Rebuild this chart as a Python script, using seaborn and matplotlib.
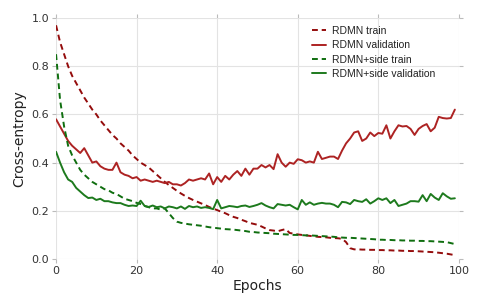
import numpy as np
import pandas as pd
import seaborn as sns
import matplotlib
matplotlib.use("Agg")
import matplotlib.pyplot as plt

epochs = list(range(100))

rdmn_train = [
    0.97, 0.90, 0.85, 0.80, 0.76, 0.73, 0.70, 0.67, 0.645, 0.62,
    0.60, 0.575, 0.555, 0.535, 0.515, 0.50, 0.48, 0.465, 0.45, 0.43,
    0.415, 0.40, 0.39, 0.38, 0.365, 0.35, 0.335, 0.32, 0.307, 0.295,
    0.283, 0.272, 0.262, 0.253, 0.245, 0.238, 0.231, 0.224, 0.216, 0.209,
    0.203, 0.196, 0.19, 0.182, 0.175, 0.17, 0.163, 0.157, 0.15, 0.146,
    0.142, 0.135, 0.127, 0.12, 0.118, 0.115, 0.12, 0.124, 0.108, 0.105,
    0.102, 0.10, 0.098, 0.096, 0.094, 0.092, 0.091, 0.09, 0.088, 0.087,
    0.086, 0.084, 0.07, 0.045, 0.04, 0.04, 0.039, 0.039, 0.038, 0.038,
    0.037, 0.037, 0.036, 0.036, 0.035, 0.035, 0.034, 0.034, 0.033, 0.033,
    0.032, 0.031, 0.030, 0.029, 0.028, 0.026, 0.024, 0.022, 0.019, 0.016,
]

rdmn_val = [
    0.58, 0.55, 0.52, 0.49, 0.47, 0.455, 0.44, 0.46, 0.43, 0.40,
    0.405, 0.385, 0.375, 0.37, 0.37, 0.40, 0.36, 0.35, 0.345, 0.335,
    0.34, 0.325, 0.33, 0.325, 0.32, 0.325, 0.32, 0.315, 0.32, 0.31,
    0.31, 0.305, 0.315, 0.33, 0.325, 0.33, 0.335, 0.33, 0.355, 0.31,
    0.34, 0.32, 0.345, 0.33, 0.35, 0.365, 0.345, 0.375, 0.35, 0.375,
    0.375, 0.39, 0.38, 0.39, 0.373, 0.435, 0.40, 0.383, 0.40, 0.395,
    0.414, 0.41, 0.40, 0.405, 0.40, 0.445, 0.415, 0.42, 0.425, 0.425,
    0.415, 0.45, 0.48, 0.50, 0.525, 0.53, 0.49, 0.50, 0.525, 0.51,
    0.523, 0.52, 0.555, 0.50, 0.53, 0.555, 0.55, 0.552, 0.54, 0.515,
    0.54, 0.552, 0.56, 0.53, 0.545, 0.59, 0.585, 0.583, 0.585, 0.62,
]

side_train = [
    0.85, 0.66, 0.55, 0.47, 0.43, 0.40, 0.37, 0.35, 0.335, 0.32,
    0.31, 0.30, 0.29, 0.285, 0.275, 0.27, 0.26, 0.25, 0.245, 0.24,
    0.233, 0.228, 0.22, 0.215, 0.21, 0.21, 0.205, 0.21, 0.19, 0.17,
    0.155, 0.15, 0.147, 0.144, 0.142, 0.14, 0.138, 0.135, 0.132, 0.13,
    0.128, 0.126, 0.124, 0.123, 0.122, 0.12, 0.118, 0.116, 0.113, 0.112,
    0.11, 0.109, 0.108, 0.107, 0.105, 0.104, 0.103, 0.102, 0.101, 0.10,
    0.10, 0.099, 0.098, 0.098, 0.097, 0.096, 0.095, 0.094, 0.093, 0.092,
    0.09, 0.089, 0.088, 0.088, 0.087, 0.086, 0.085, 0.084, 0.083, 0.082,
    0.08, 0.08, 0.079, 0.079, 0.078, 0.078, 0.077, 0.077, 0.076, 0.076,
    0.075, 0.075, 0.074, 0.074, 0.073, 0.072, 0.071, 0.07, 0.066, 0.062,
]

side_val = [
    0.445, 0.40, 0.36, 0.33, 0.32, 0.295, 0.28, 0.265, 0.253, 0.255,
    0.245, 0.25, 0.24, 0.24, 0.235, 0.232, 0.232, 0.225, 0.22, 0.222,
    0.22, 0.242, 0.22, 0.216, 0.222, 0.215, 0.218, 0.21, 0.218, 0.215,
    0.21, 0.218, 0.208, 0.22, 0.215, 0.218, 0.212, 0.215, 0.212, 0.207,
    0.245, 0.21, 0.215, 0.22, 0.218, 0.215, 0.22, 0.222, 0.216, 0.22,
    0.225, 0.232, 0.222, 0.215, 0.21, 0.228, 0.225, 0.222, 0.225, 0.215,
    0.206, 0.245, 0.225, 0.235, 0.225, 0.23, 0.233, 0.23, 0.23, 0.225,
    0.215, 0.237, 0.235, 0.228, 0.245, 0.24, 0.237, 0.248, 0.23, 0.24,
    0.252, 0.245, 0.252, 0.232, 0.245, 0.22, 0.225, 0.23, 0.24, 0.24,
    0.238, 0.265, 0.24, 0.27, 0.255, 0.245, 0.273, 0.26, 0.25, 0.252,
]

names = ["RDMN train", "RDMN validation", "RDMN+side train", "RDMN+side validation"]
series = [rdmn_train, rdmn_val, side_train, side_val]

df = pd.concat(
    [pd.DataFrame({"epoch": epochs, "loss": vals, "run": n}) for n, vals in zip(names, series)],
    ignore_index=True,
)

palette = {
    "RDMN train": "#940c0c",
    "RDMN validation": "#ad2323",
    "RDMN+side train": "#0f6e0f",
    "RDMN+side validation": "#1d7a1d",
}
dashes = {
    "RDMN train": (3, 2),
    "RDMN validation": "",
    "RDMN+side train": (3, 2),
    "RDMN+side validation": "",
}

sns.set_style("whitegrid", {"grid.color": "#e3e3e3", "axes.edgecolor": "white"})
plt.rcParams["font.family"] = ["DejaVu Sans"]

fig, ax = plt.subplots(figsize=(4.79, 2.96), dpi=100)
fig.subplots_adjust(left=0.117, right=0.958, top=0.939, bottom=0.125)

sns.lineplot(data=df, x="epoch", y="loss", hue="run", style="run",
             palette=palette, dashes=dashes, hue_order=names, style_order=names,
             linewidth=1.4, ax=ax)

ax.set_xlim(0, 100)
ax.set_ylim(0, 1.0)
ax.set_xticks([0, 20, 40, 60, 80, 100])
ax.set_yticks([0.0, 0.2, 0.4, 0.6, 0.8, 1.0])
ax.set_xlabel("Epochs", fontsize=10, color="#222222", labelpad=2)
ax.set_ylabel("Cross-entropy", fontsize=10, color="#222222", labelpad=4)
ax.tick_params(axis="both", which="both", labelsize=8, colors="#bbbbbb",
               labelcolor="#333333", length=3, width=0.8, direction="out",
               top=True, right=True, bottom=True, left=True, pad=2)
ax.grid(True, color="#e3e3e3", linewidth=0.8)
for sp in ax.spines.values():
    sp.set_visible(False)

leg = ax.legend(loc="upper left", bbox_to_anchor=(0.624, 0.985), frameon=False,
                prop={"family": "Liberation Sans", "size": 7.5},
                handlelength=1.35, handletextpad=0.65, labelspacing=0.42,
                borderaxespad=0.0)
for t in leg.get_texts():
    t.set_color("#222222")

fig.savefig("out.png", dpi=100)
